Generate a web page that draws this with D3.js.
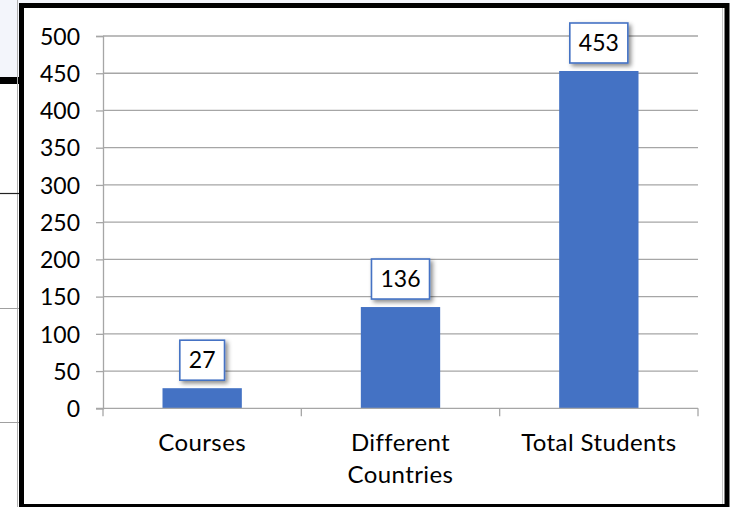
<!DOCTYPE html>
<html>
<head>
    <meta charset="utf-8">
    <script src="https://d3js.org/d3.v7.min.js"></script>
</head>

<style>
body {
    margin: 0;
    background: #ffffff;
}
svg text {
    font-family: Lato, "Open Sans", sans-serif;
    fill: #000000;
}
</style>

<body>
<div id="chart"></div>

<script>
    // Chart data
    var categories = ["Courses", "Different Countries", "Total Students"];
    var values = [27, 136, 453];
    var yTicks = [0, 50, 100, 150, 200, 250, 300, 350, 400, 450, 500];

    var W = 730, H = 507;
    var plot = {left: 103, right: 698, top: 36, bottom: 408.3};
    var fontSize = 23;

    var svg = d3.select("#chart")
        .append("svg")
        .attr("width", W)
        .attr("height", H);

    // drop shadow for the value boxes
    var defs = svg.append("defs");
    defs.append("filter")
        .attr("id", "shadow")
        .attr("x", "-30%").attr("y", "-30%")
        .attr("width", "160%").attr("height", "160%")
        .append("feDropShadow")
        .attr("dx", 2.5).attr("dy", 2.5)
        .attr("stdDeviation", 2)
        .attr("flood-color", "#000")
        .attr("flood-opacity", 0.45);

    // bits of the surrounding document (page background / table lines at the left)
    svg.append("rect").attr("x", 0).attr("y", 0).attr("width", W).attr("height", 6).attr("fill", "#f3f5fb");
    svg.append("rect").attr("x", 0).attr("y", 0).attr("width", 20).attr("height", 78).attr("fill", "#f3f5fb");
    svg.append("rect").attr("x", 0).attr("y", 77).attr("width", 20).attr("height", 7).attr("fill", "#000");
    svg.append("line").attr("x1", 17.5).attr("x2", 17.5).attr("y1", 0).attr("y2", H)
        .attr("stroke", "#b0b0b0").attr("stroke-width", 1);
    svg.append("line").attr("x1", 0).attr("x2", 19).attr("y1", 193.5).attr("y2", 193.5)
        .attr("stroke", "#222").attr("stroke-width", 1.2);
    [308.5, 422.5].forEach(function(y) {
        svg.append("line").attr("x1", 0).attr("x2", 19).attr("y1", y).attr("y2", y)
            .attr("stroke", "#a0a0a0").attr("stroke-width", 1);
    });

    // chart frame
    svg.append("rect")
        .attr("x", 21.5).attr("y", 5.5)
        .attr("width", 705.5).attr("height", 501)
        .attr("fill", "#ffffff")
        .attr("stroke", "#000")
        .attr("stroke-width", 5);
    svg.append("line").attr("x1", 722.5).attr("x2", 722.5).attr("y1", 8).attr("y2", 504)
        .attr("stroke", "#c8c8c8").attr("stroke-width", 1);

    // scales
    var x = d3.scaleBand()
        .domain(categories)
        .range([plot.left, plot.right])
        .paddingInner(0.6)
        .paddingOuter(0.3);
    var y = d3.scaleLinear()
        .domain([0, 500])
        .range([plot.bottom, plot.top]);

    var gridColor = "#a6a6a6";

    // horizontal gridlines
    svg.append("g")
        .selectAll("line")
        .data(yTicks.filter(d => d > 0))
        .enter().append("line")
        .attr("x1", plot.left).attr("x2", plot.right)
        .attr("y1", d => y(d)).attr("y2", d => y(d))
        .attr("stroke", gridColor)
        .attr("stroke-width", 1.3);

    // y axis
    var yAxis = svg.append("g")
        .attr("transform", "translate(" + plot.left + ",0)")
        .call(d3.axisLeft(y).tickValues(yTicks).tickSize(7).tickPadding(16));
    yAxis.select(".domain").attr("stroke", gridColor).attr("stroke-width", 1.3);
    yAxis.selectAll(".tick line").attr("stroke", gridColor).attr("stroke-width", 1.3);
    yAxis.selectAll(".tick text")
        .attr("font-size", fontSize)
        .attr("font-family", "Lato, 'Open Sans', sans-serif")
        .attr("fill", "#000")
        .attr("dy", "0.36em");

    // bars
    svg.append("g")
        .selectAll("rect")
        .data(values)
        .enter().append("rect")
        .attr("x", (d, i) => x(categories[i]))
        .attr("y", d => y(d))
        .attr("width", x.bandwidth())
        .attr("height", d => y(0) - y(d))
        .attr("fill", "#4472c4");

    // x axis line and category ticks (at band boundaries)
    svg.append("line")
        .attr("x1", plot.left - 7).attr("x2", plot.right)
        .attr("y1", y(0)).attr("y2", y(0))
        .attr("stroke", gridColor).attr("stroke-width", 1.3);
    var bounds = [0, 1, 2, 3].map(i => plot.left + i * (plot.right - plot.left) / categories.length);
    svg.append("g")
        .selectAll("line")
        .data(bounds)
        .enter().append("line")
        .attr("x1", d => d).attr("x2", d => d)
        .attr("y1", y(0)).attr("y2", y(0) + 8)
        .attr("stroke", gridColor).attr("stroke-width", 1.3);

    // category labels (wrapped like the original)
    var catLines = {
        "Courses": ["Courses"],
        "Different Countries": ["Different", "Countries"],
        "Total Students": ["Total Students"]
    };
    var catG = svg.append("g");
    categories.forEach(function(c) {
        var t = catG.append("text")
            .attr("x", x(c) + x.bandwidth() / 2)
            .attr("y", 451)
            .attr("text-anchor", "middle")
            .attr("font-size", 24)
            .attr("letter-spacing", 0.4);
        catLines[c].forEach(function(line, j) {
            t.append("tspan")
                .attr("x", x(c) + x.bandwidth() / 2)
                .attr("y", 451 + j * 32)
                .text(line);
        });
    });

    // value boxes
    var labels = svg.append("g");
    values.forEach(function(v, i) {
        var cx = x(categories[i]) + x.bandwidth() / 2;
        var g = labels.append("g");
        var box = g.append("rect");
        var t = g.append("text")
            .attr("x", cx)
            .attr("y", y(v) - 8 - 20)
            .attr("dy", "0.36em")
            .attr("text-anchor", "middle")
            .attr("font-size", fontSize)
            .text(v);
        var tw = t.node().getComputedTextLength();
        var bw = tw + 18, bh = 40;
        box.attr("x", cx - bw / 2)
            .attr("y", y(v) - 8 - bh)
            .attr("width", bw)
            .attr("height", bh)
            .attr("fill", "#ffffff")
            .attr("stroke", "#4472c4")
            .attr("stroke-width", 1.6)
            .attr("filter", "url(#shadow)");
    });
</script>
</body>
</html>
